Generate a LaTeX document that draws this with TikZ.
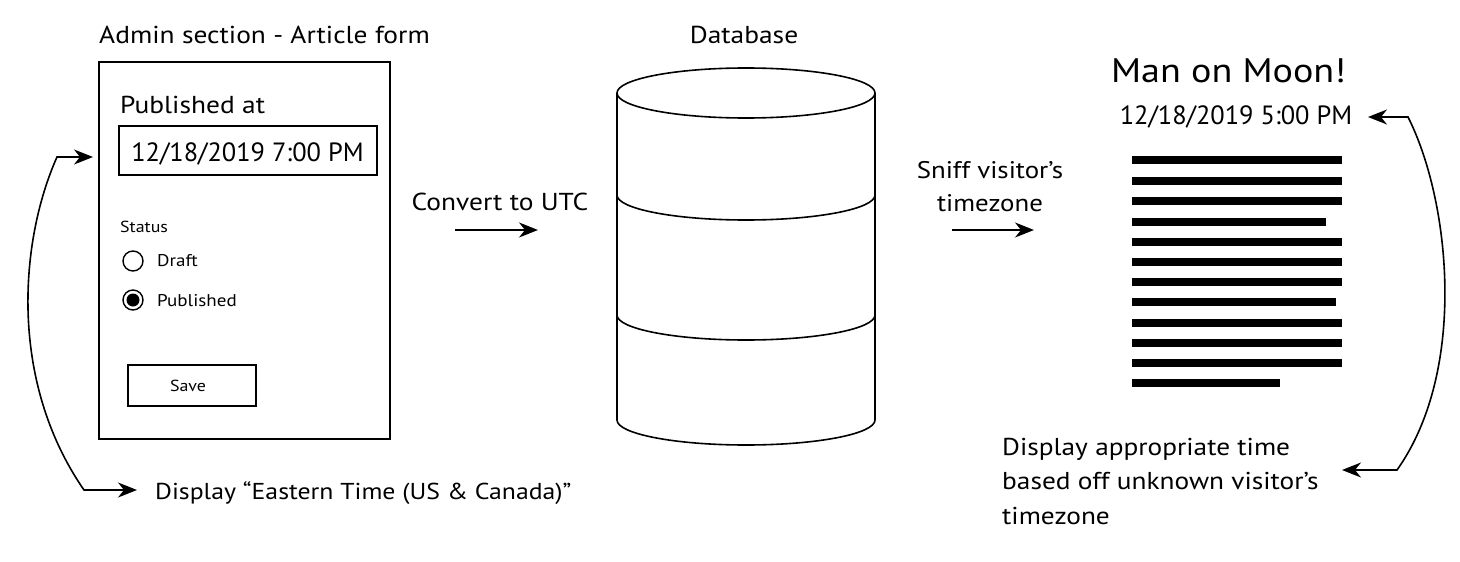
\documentclass[tikz,border=0pt]{standalone}
\usepackage{fontspec}
\setmainfont{PT Sans}[FakeStretch=1.12]
\newfontfamily\plainfont{PT Sans}
\usetikzlibrary{arrows.meta}
\begin{document}
\begin{tikzpicture}[x=1pt,y=-1pt,
  lbl/.style={inner sep=0pt},
  fs/.style={font=\fontsize{#1}{#1}\selectfont},
  dfs/.style={font=\plainfont\fontsize{#1}{#1}\selectfont},
  tip/.style={},
  arr/.style={line width=1.7pt, -{Stealth[length=19pt,width=15pt,inset=6pt]}},
  darr/.style={line width=1.6pt, {Stealth[length=19pt,width=15pt,inset=6pt]}-{Stealth[length=19pt,width=15pt,inset=6pt]}},
  box/.style={draw, line width=1.8pt, inner sep=0pt},
  cyl/.style={line width=1.6pt},
  bar/.style={line width=7.5pt}]
\useasboundingbox[fill=white] (0,0) rectangle (1460,562);

% ---------- Admin form ----------
\node[lbl, fs=24.5, anchor=base] (title) at (264.5,43) {Admin section - Article form};
\node[box, minimum width=291pt, minimum height=377pt] (form) at (244.5,250.5) {};
\node[lbl, fs=24.5, anchor=base west] (pubat) at (120,113) {Published at};
\node[box, minimum width=258pt, minimum height=49pt] (datebox) at (248,150.5) {};
\node[lbl, dfs=26.4, anchor=base] (date) at (247.5,161) {12/18/2019 7:00 PM};
\node[lbl, fs=16, anchor=base west] (status) at (120,232) {Status};
\node[draw, circle, line width=1.4pt, minimum size=20pt, inner sep=0pt] (rdraft) at (133,261) {};
\node[lbl, fs=17, anchor=base west] (draft) at (157,266) {Draft};
\node[draw, circle, line width=1.4pt, minimum size=20pt, inner sep=0pt] (rpub) at (133,300) {};
\fill (rpub.center) circle (6.5pt);
\node[lbl, fs=17, anchor=base west] (pub) at (157,306) {Published};
\node[box, minimum width=128pt, minimum height=41pt] (save) at (192,385.5) {};
\node[lbl, fs=16, anchor=base] (savet) at (188,391) {Save};

\node[lbl, fs=23, anchor=base west] (eastern) at (155,499) {Display “Eastern Time (US \& Canada)”};

% left curved arrow
\coordinate (lt) at (93,157);
\coordinate (lc1) at (57,157);
\coordinate (lc2) at (84,490);
\coordinate (lb) at (137,490);
\draw[darr] (lt) -- (lc1) .. controls (20,240) and (8,380) .. (lc2) -- (lb);

% ---------- Convert ----------
\node[lbl, fs=24.5, anchor=base] (conv) at (500,210) {Convert to UTC};
\coordinate (a1s) at (455,230);
\coordinate (a1e) at (538,230);
\draw[arr] (a1s) -- (a1e);

% ---------- Database ----------
\node[lbl, fs=24.5, anchor=base] (db) at (744,43) {Database};
\draw[cyl] (746,93) ellipse [x radius=129, y radius=25];
\draw[cyl] (617,93) -- (617,420) arc[start angle=180, end angle=0, x radius=129, y radius=25] -- (875,93);
\draw[cyl] (617,195) arc[start angle=180, end angle=0, x radius=129, y radius=25];
\draw[cyl] (617,315) arc[start angle=180, end angle=0, x radius=129, y radius=25];

% ---------- Sniff ----------
\node[lbl, fs=24, align=center, anchor=north] (sniff) at (990,161) {Sniff visitor’s\\[9pt]timezone};
\coordinate (a2s) at (952,230);
\coordinate (a2e) at (1034,230);
\draw[arr] (a2s) -- (a2e);

% ---------- Article ----------
\node[lbl, fs=34, anchor=base] (moon) at (1228.5,82) {Man on Moon!};
\node[lbl, dfs=26.4, anchor=base] (date2) at (1236,124) {12/18/2019 5:00 PM};
\foreach \y/\e in {160/1342,181/1342,201/1342,222/1326,242/1342,262/1342,282/1342,302/1336,323/1342,343/1342,363/1342,383/1280}
  \draw[bar] (1132,\y) -- (\e,\y);

\node[lbl, fs=24.4, align=left, anchor=north west] (appr) at (1002,438) {Display appropriate time\\[10pt]based off unknown visitor’s\\[10pt]timezone};

% right curved arrow
\coordinate (rt) at (1368,117);
\coordinate (rc1) at (1408,117);
\coordinate (rc2) at (1397,470);
\coordinate (rb) at (1342,470);
\draw[darr] (rt) -- (rc1) .. controls (1450,200) and (1468,370) .. (rc2) -- (rb);
\end{tikzpicture}
\end{document}
